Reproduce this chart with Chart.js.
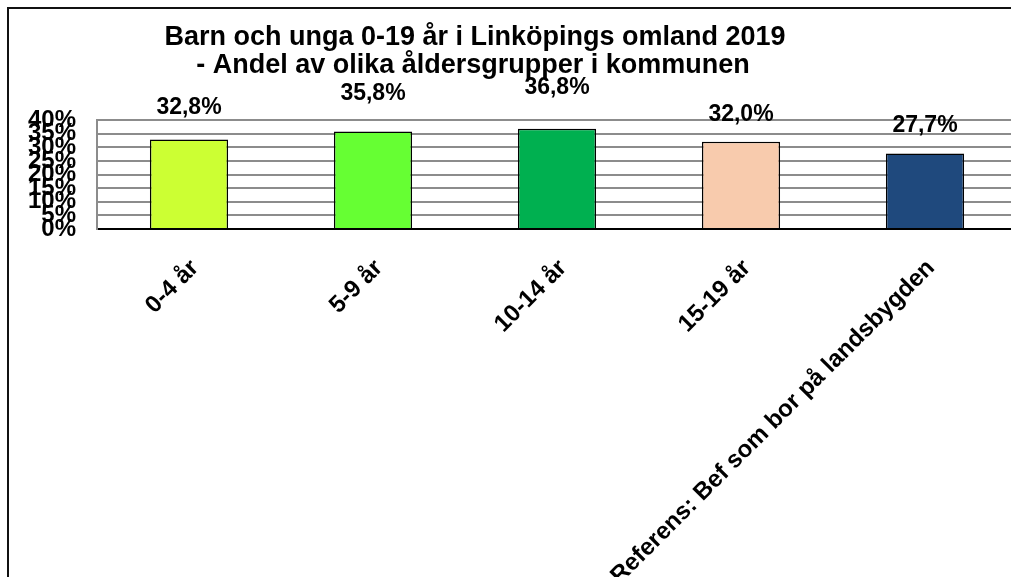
<!DOCTYPE html>
<html>
<head>
<meta charset="utf-8">
<script src="https://cdn.jsdelivr.net/npm/chart.js@4.4.1/dist/chart.umd.min.js"></script>
<style>
  html, body { margin: 0; padding: 0; background: #fff; overflow: hidden; }
  #wrap { position: relative; width: 1030px; height: 577px; }
</style>
</head>
<body>
<div id="wrap"><canvas id="c" width="1030" height="577"></canvas></div>
<script>
const titleLines = ["Barn och unga 0-19 år i Linköpings omland 2019", "- Andel av olika åldersgrupper i kommunen"];
const categories = ["0-4 år", "5-9 år", "10-14 år", "15-19 år", "Referens: Bef som bor på landsbygden"];
const values = [32.8, 35.8, 36.8, 32.0, 27.7];
const barColors = ["#CCFF33", "#66FF33", "#00B050", "#F8CBAD", "#1F497D"];
const yTicks = [0, 5, 10, 15, 20, 25, 30, 35, 40];

const FONT = "'Liberation Sans', Arial, sans-serif";

const framePlugin = {
  id: 'frame',
  beforeDraw(chart) {
    const ctx = chart.ctx;
    ctx.save();
    ctx.fillStyle = '#fff';
    ctx.fillRect(0, 0, chart.width, chart.height);
    ctx.strokeStyle = '#111';
    ctx.lineWidth = 2;
    ctx.beginPath();
    ctx.moveTo(8, chart.height);
    ctx.lineTo(8, 8);
    ctx.lineTo(chart.width, 8);
    ctx.stroke();
    ctx.restore();
  },
  afterDraw(chart) {
    const ctx = chart.ctx;
    ctx.save();
    ctx.fillStyle = '#000';
    ctx.font = "bold 27px " + FONT;
    ctx.textAlign = 'center';
    ctx.textBaseline = 'middle';
    ctx.fillText(titleLines[0], 475, 38);
    ctx.fillText(titleLines[1], 473, 66);
    ctx.restore();
  }
};

const labelOffsets = [32, 38, 41, 27, 28];
const valueLabelPlugin = {
  id: 'valueLabels',
  afterDatasetsDraw(chart) {
    const ctx = chart.ctx;
    const meta = chart.getDatasetMeta(0);
    ctx.save();
    ctx.fillStyle = '#000';
    ctx.font = "bold 23px " + FONT;
    ctx.textAlign = 'center';
    ctx.textBaseline = 'middle';
    meta.data.forEach((bar, i) => {
      const v = chart.data.datasets[0].data[i];
      const txt = v.toFixed(1).replace('.', ',') + '%';
      ctx.fillText(txt, bar.x, bar.y - labelOffsets[i]);
    });
    ctx.restore();
  }
};

new Chart(document.getElementById('c'), {
  type: 'bar',
  data: {
    labels: categories,
    datasets: [{
      data: values,
      backgroundColor: barColors,
      borderColor: '#000',
      borderWidth: 1.5,
      barPercentage: 0.425,
      categoryPercentage: 1.0
    }]
  },
  options: {
    responsive: false,
    animation: false,
    devicePixelRatio: 1,
    layout: { padding: { top: 120, left: 0, right: 13, bottom: 0 } },
    plugins: {
      legend: { display: false },
      title: { display: false },
      tooltip: { enabled: false }
    },
    scales: {
      x: {
        afterFit(scale) { scale.height = 348; },
        grid: { display: false, drawTicks: false },
        border: { display: true, color: '#000', width: 2 },
        ticks: {
          autoSkip: false,
          minRotation: 45,
          maxRotation: 45,
          padding: 25,
          labelOffset: 6,
          color: '#000',
          font: { family: FONT, size: 24, weight: 'bold' }
        }
      },
      y: {
        min: 0,
        max: 40,
        afterFit(scale) { scale.width = 97; },
        afterBuildTicks(scale) { scale.ticks = yTicks.map(v => ({ value: v })); },
        grid: { color: '#8c8c8c', lineWidth: 2, drawTicks: false },
        border: { display: true, color: '#8c8c8c', width: 2 },
        ticks: {
          autoSkip: false,
          padding: 21,
          color: '#000',
          font: { family: FONT, size: 24, weight: 'bold' },
          callback: (v) => v + '%'
        }
      }
    }
  },
  plugins: [framePlugin, valueLabelPlugin]
});
</script>
</body>
</html>
